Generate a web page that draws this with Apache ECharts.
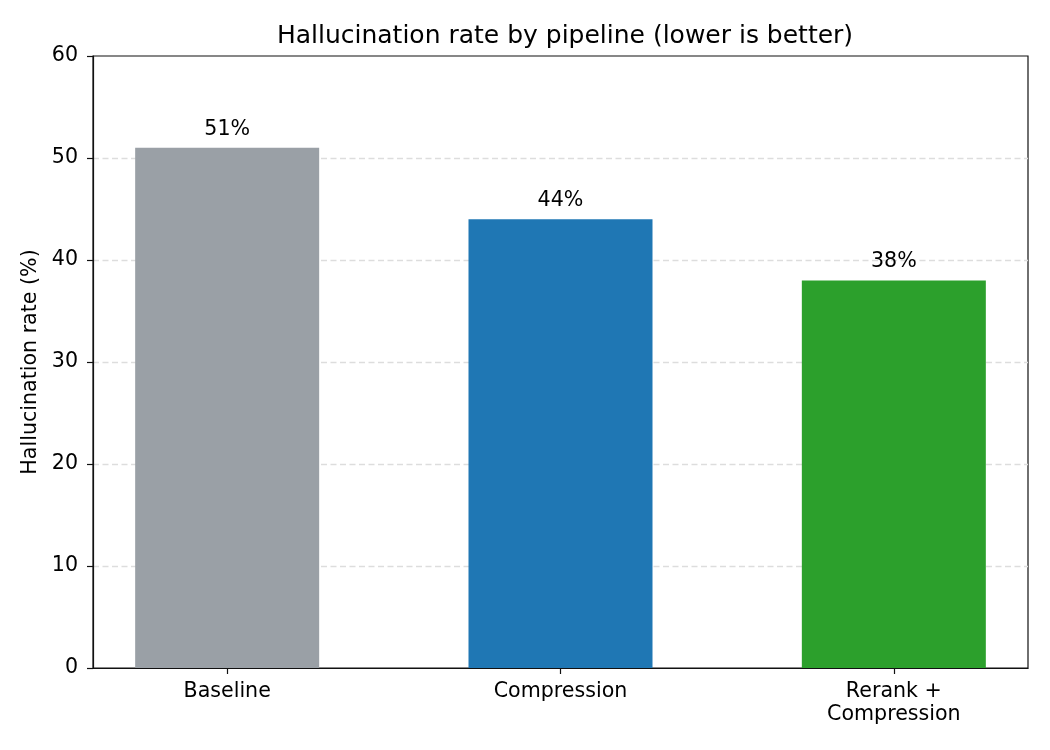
<!DOCTYPE html>
<html lang="en">
<head>
    <meta charset="UTF-8">
    <title>Hallucination rate by pipeline</title>
    <script src="https://cdn.jsdelivr.net/npm/echarts@6/dist/echarts.min.js"></script>
    <style>
        html, body { margin: 0; padding: 0; background: #fff; }
        #chart { width: 1050px; height: 750px; }
    </style>
</head>
<body>
<div id="chart"></div>
<script type="text/javascript">
    // data
    var categories = ['Baseline', 'Compression', 'Rerank +\nCompression'];
    var rates = [51, 44, 38];
    var barColors = ['#9aa0a6', '#1f77b4', '#2ca02c'];
    var yTicks = [0, 10, 20, 30, 40, 50, 60];

    var font = 'DejaVu Sans';
    var chart = echarts.init(document.getElementById('chart'));

    var barData = [];
    for (var i = 0; i < rates.length; i++) {
        barData.push({ value: [i, rates[i]], itemStyle: { color: barColors[i] } });
    }

    var option = {
        animation: false,
        textStyle: { fontFamily: font },
        title: {
            text: 'Hallucination rate by pipeline (lower is better)',
            left: 560, top: 19, textAlign: 'center',
            textStyle: { fontFamily: font, fontSize: 25, fontWeight: 'normal', color: '#000' }
        },
        grid: {
            left: 93, right: 22, top: 56, bottom: 82,
            show: true, borderColor: '#111', borderWidth: 1.2, backgroundColor: 'transparent'
        },
        xAxis: {
            type: 'value',
            // matplotlib-style margins around the 3 bars
            min: -0.4025, max: 2.4025,
            splitLine: { show: false },
            axisLine: { show: true, onZero: false, lineStyle: { color: '#111', width: 1.2 } },
            axisTick: { show: true, customValues: [0, 1, 2], length: 6, lineStyle: { color: '#111', width: 1.2 } },
            axisLabel: {
                customValues: [0, 1, 2],
                margin: 12, fontSize: 20.6, color: '#000', fontFamily: font, lineHeight: 23,
                formatter: function (v) { return categories[Math.round(v)] || ''; }
            }
        },
        yAxis: {
            type: 'value',
            min: 0, max: 60, interval: 10,
            name: 'Hallucination rate (%)',
            nameLocation: 'middle', nameGap: 48, nameRotate: 90,
            nameTextStyle: { fontSize: 20.6, color: '#000', fontFamily: font },
            axisLine: { show: true, onZero: false, lineStyle: { color: '#111', width: 1.2 } },
            axisTick: { show: true, length: 6, lineStyle: { color: '#111', width: 1.2 } },
            axisLabel: {
                margin: 15, fontSize: 20.6, color: '#000', fontFamily: font, padding: [4, 0, 0, 0],
                formatter: function (v) { return yTicks.indexOf(v) >= 0 ? String(v) : ''; }
            },
            splitLine: {
                show: true, showMinLine: false, showMaxLine: false,
                lineStyle: { color: '#dddddd', type: [6, 3.5], width: 1.3 }
            }
        },
        series: [{
            type: 'bar',
            data: barData,
            barWidth: 184,
            label: {
                show: true, position: 'top', distance: 8,
                fontSize: 20.6, color: '#000', fontFamily: font,
                formatter: function (p) { return p.value[1] + '%'; }
            }
        }]
    };

    chart.setOption(option);
</script>
</body>
</html>
